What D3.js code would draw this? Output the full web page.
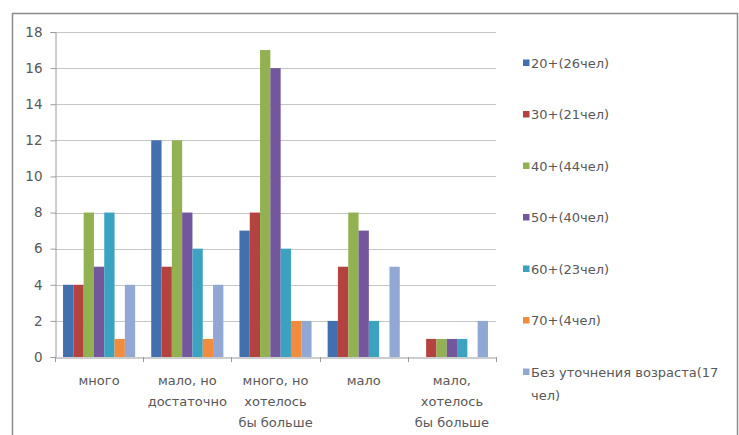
<!DOCTYPE html>
<html><head><meta charset="utf-8">
<script src="https://cdn.jsdelivr.net/npm/d3@7"></script>
<style>html,body{margin:0;padding:0;background:#fff;}svg{display:block;}</style>
</head><body>
<svg id="c" width="739" height="435"></svg>
<script>
const categories = [["много"],["мало, но","достаточно"],["много, но","хотелось","бы больше"],["мало"],["мало,","хотелось","бы больше"]];
const seriesNames = ["20+(26чел)","30+(21чел)","40+(44чел)","50+(40чел)","60+(23чел)","70+(4чел)","Без уточнения возраста(17 чел)"];
const s20 = [4,12,7,2,0];
const s30 = [4,5,8,5,1];
const s40 = [8,12,17,8,1];
const s50 = [5,8,16,7,1];
const s60 = [8,6,6,2,1];
const s70 = [1,1,2,0,0];
const sNone = [4,4,2,5,2];
const yTicks = [0,2,4,6,8,10,12,14,16,18];
const colors = ["#4270AE","#B4423F","#92B150","#73569C","#3BA2C0","#F08C3C","#91A8D4"];

const series = [s20,s30,s40,s50,s60,s70,sNone];
const svg = d3.select("#c");
const font = "'DejaVu Sans', Arial, sans-serif";
const txt = "#585858";

// chart frame
svg.append("path").attr("d","M12.5,435 V13.5 H737.5 V435").attr("fill","none").attr("stroke","#8c8c8c").attr("stroke-width",1.5);

const x0 = 55, x1 = 496, yTop = 32, yBot = 357;
const x = d3.scaleBand().domain(d3.range(categories.length)).range([x0,x1]).paddingInner(0).paddingOuter(0);
const y = d3.scaleLinear().domain([0,18]).range([yBot,yTop]);
const xs = d3.scaleBand().domain(d3.range(series.length)).range([0,x.bandwidth()]).paddingInner(0).paddingOuter(0.78);

// gridlines
svg.append("g").selectAll("line").data(yTicks.filter(d=>d>0)).join("line")
  .attr("x1",x0).attr("x2",x1).attr("y1",d=>Math.round(y(d))+0.5).attr("y2",d=>Math.round(y(d))+0.5)
  .attr("stroke","#c6c6c6").attr("stroke-width",1.2);

// bars
series.forEach((s,si)=>{
  svg.append("g").selectAll("rect").data(s).join("rect")
    .attr("x",(d,i)=>x(i)+xs(si)).attr("width",xs.bandwidth())
    .attr("y",d=>y(d)).attr("height",d=>y(0)-y(d))
    .attr("fill",colors[si]);
});

// y axis
const ya = d3.axisLeft(y).tickValues(yTicks).tickSize(5).tickPadding(8);
const gy = svg.append("g").attr("transform",`translate(${x0+0.5},0)`).call(ya);
gy.select(".domain").attr("stroke","#9a9a9a");
gy.selectAll(".tick line").attr("stroke","#9a9a9a");
gy.selectAll("text").attr("font-family",font).attr("font-size",13.5).attr("fill",txt);

// x axis
const xa = d3.axisBottom(x).tickSize(0).tickFormat("");
const gx = svg.append("g").attr("transform",`translate(0,${yBot+0.5})`).call(xa);
gx.select(".domain").attr("stroke","#9a9a9a");
svg.append("g").selectAll("line").data(d3.range(categories.length+1)).join("line")
  .attr("x1",i=>Math.round(x0+i*x.bandwidth())+0.5).attr("x2",i=>Math.round(x0+i*x.bandwidth())+0.5)
  .attr("y1",yBot).attr("y2",yBot+5).attr("stroke","#9a9a9a");

const lab = svg.append("g").selectAll("text").data(categories).join("text")
  .attr("x",(d,i)=>x(i)+x.bandwidth()/2).attr("y",385)
  .attr("text-anchor","middle").attr("font-family",font).attr("font-size",13).attr("fill",txt);
lab.selectAll("tspan").data(d=>d).join("tspan")
  .attr("x",function(){return this.parentNode.getAttribute("x");})
  .attr("dy",(d,i)=>i===0?0:21).text(d=>d);

// legend
const lg = svg.append("g").selectAll("g").data(seriesNames).join("g")
  .attr("transform",(d,i)=>`translate(523,${63+i*51.5})`);
lg.append("rect").attr("x",0).attr("y",-3.5).attr("width",6.5).attr("height",6.5).attr("fill",(d,i)=>colors[i]);
const lt = lg.append("text").attr("x",8).attr("y",4.5).attr("font-family",font).attr("font-size",13).attr("fill",txt);
lt.each(function(d){
  const t = d3.select(this);
  if (d.startsWith("Без")) {
    t.append("tspan").attr("x",8).attr("dy",0).text("Без уточнения возраста(17");
    t.append("tspan").attr("x",8).attr("dy",23).text("чел)");
  } else t.text(d);
});
</script>
</body></html>
